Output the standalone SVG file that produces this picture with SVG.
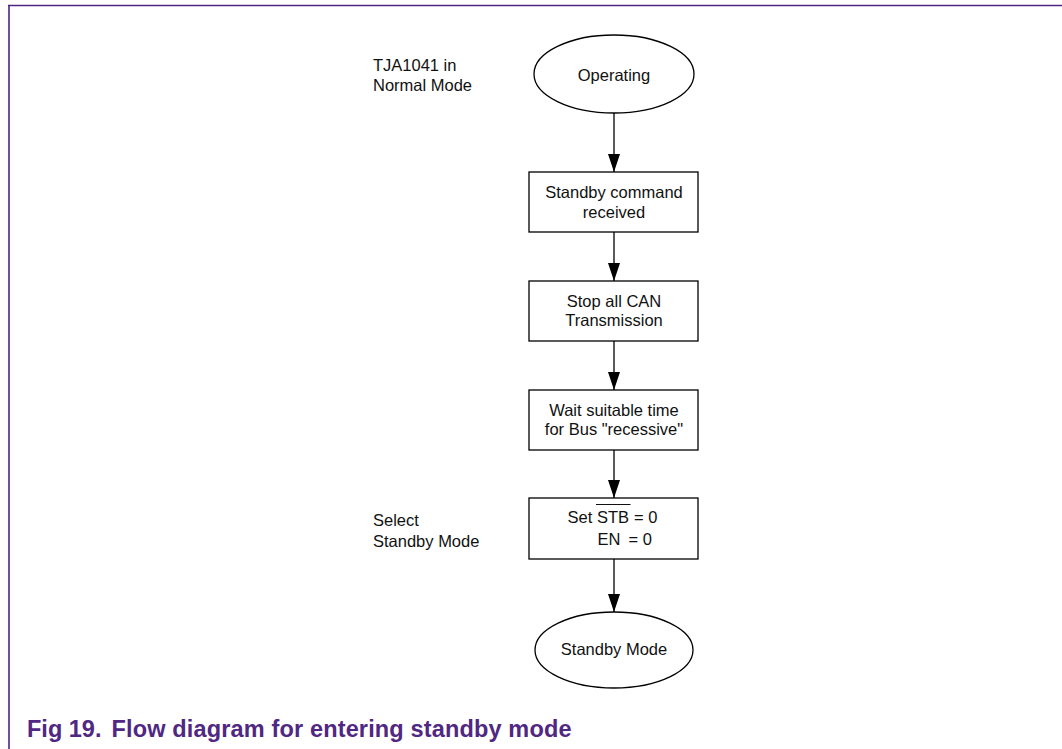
<svg xmlns="http://www.w3.org/2000/svg" width="1062" height="749" viewBox="0 0 1062 749">
<style>
.t{font-family:"Liberation Sans",Arial,sans-serif;font-size:16.5px;fill:#111}
.c{text-anchor:middle}
.shape{fill:#fff;stroke:#000;stroke-width:1.3}
.conn{stroke:#000;stroke-width:1.3;fill:none}
.frame{stroke:#4f2683;stroke-width:1.6;fill:none}
.cap{font-family:"Liberation Sans",Arial,sans-serif;font-size:23.5px;font-weight:bold;fill:#502782}
</style>
<defs>
<marker id="ah" markerUnits="userSpaceOnUse" markerWidth="18" markerHeight="12" refX="18" refY="6" viewBox="0 0 18 12" orient="auto">
<path d="M0,0 L18,6 L0,12 Z" fill="#000"/>
</marker>
</defs>
<rect width="1062" height="749" fill="#fff"/>
<path class="frame" d="M8,5.5 H1062 M9,5 V749"/>
<g id="connectors">
<line class="conn" x1="614" y1="113" x2="614" y2="172" marker-end="url(#ah)"/>
<line class="conn" x1="614" y1="232" x2="614" y2="281" marker-end="url(#ah)"/>
<line class="conn" x1="614" y1="341" x2="614" y2="390" marker-end="url(#ah)"/>
<line class="conn" x1="614" y1="450" x2="614" y2="498" marker-end="url(#ah)"/>
<line class="conn" x1="614" y1="559" x2="614" y2="612" marker-end="url(#ah)"/>
</g>
<g id="label-normal">
<text class="t" x="373" y="71">TJA1041 in</text>
<text class="t" x="373" y="91">Normal Mode</text>
</g>
<g id="label-select">
<text class="t" x="373" y="526">Select</text>
<text class="t" x="373" y="547">Standby Mode</text>
</g>
<g id="operating">
<ellipse class="shape" cx="614" cy="74" rx="80" ry="39"/>
<text class="t c" x="614" y="81">Operating</text>
</g>
<g id="standby-cmd">
<rect class="shape" x="529" y="172" width="169" height="60"/>
<text class="t c" x="614" y="198">Standby command</text>
<text class="t c" x="614" y="218">received</text>
</g>
<g id="stop-can">
<rect class="shape" x="529" y="281" width="169" height="60"/>
<text class="t c" x="614" y="307">Stop all CAN</text>
<text class="t c" x="614" y="326">Transmission</text>
</g>
<g id="wait">
<rect class="shape" x="529" y="390" width="169" height="60"/>
<text class="t c" x="614" y="416">Wait suitable time</text>
<text class="t c" x="614" y="435">for Bus "recessive"</text>
</g>
<g id="set-stb">
<rect class="shape" x="529" y="498" width="169" height="61"/>
<text class="t" x="567.5" y="523">Set <tspan x="597">STB</tspan><tspan x="634">= 0</tspan></text>
<line x1="596" y1="504.5" x2="630.5" y2="504.5" stroke="#111" stroke-width="1.1"/>
<text class="t" x="597.5" y="545">EN<tspan x="628.5">= 0</tspan></text>
</g>
<g id="standby-mode">
<ellipse class="shape" cx="614" cy="650" rx="79" ry="38"/>
<text class="t c" x="614" y="655">Standby Mode</text>
</g>
<g id="caption">
<text class="cap" x="27" y="737">Fig 19.</text>
<text class="cap" x="111.5" y="737" textLength="460" lengthAdjust="spacing">Flow diagram for entering standby mode</text>
</g>
</svg>
